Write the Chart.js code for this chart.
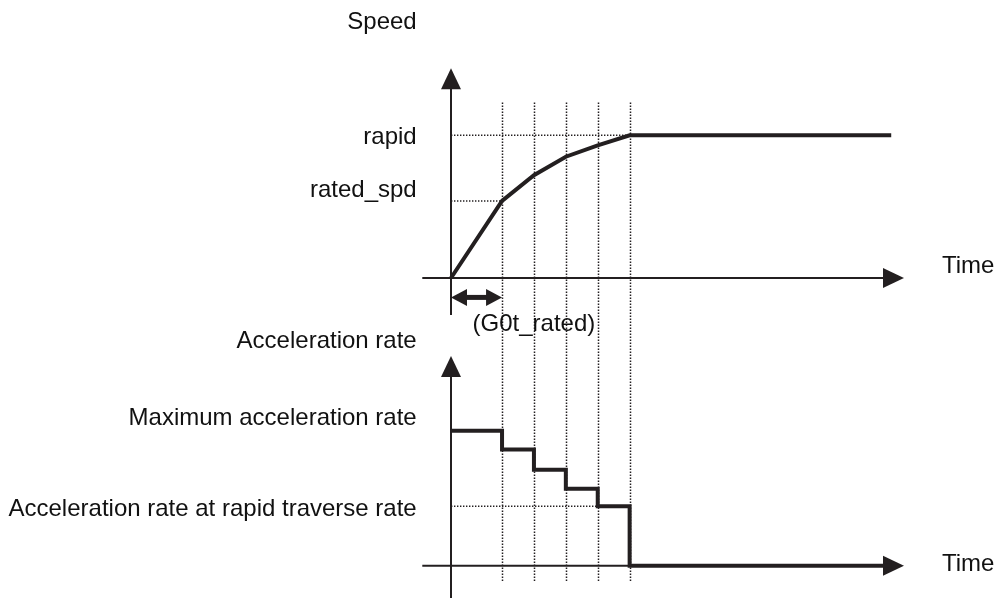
<!DOCTYPE html>
<html>
<head>
<meta charset="utf-8">
<script src="https://cdn.jsdelivr.net/npm/chart.js@4.4.1/dist/chart.umd.min.js"></script>
<style>
  body { margin: 0; background: #fff; }
  #wrap { width: 994px; height: 599px; }
</style>
</head>
<body>
<div id="wrap"><canvas id="diagram" width="994" height="599"></canvas></div>
<script>
// speed curve: time marks and speed (rapid = 1)
const speedTimes = [0, 1.6, 2.6, 3.6, 4.6, 5.6, 13.8];
const speedValues = [0, 0.54, 0.72, 0.85, 0.93, 1.0, 1.0];

// acceleration steps (max = 1), value holds until the next time mark
const accelTimes = [0, 1.6, 2.6, 3.6, 4.6, 5.6, 13.8];
const accelValues = [1.0, 0.86, 0.71, 0.57, 0.44, 0, 0];

// dotted guides
const gridTimes = [1.6, 2.6, 3.6, 4.6, 5.6];
const speedLevels = [1.0, 0.54];
const speedLevelEnds = [5.6, 1.6];
const accelLevels = [1.0, 0.44];

// texts
const speedLabels = ["rapid", "rated_spd"];
const accelLabels = ["Maximum acceleration rate", "Acceleration rate at rapid traverse rate"];
const axisTitles = ["Speed", "Acceleration rate", "Time"];
const ratedSpanLabel = "(G0t_rated)";

const INK = "#231f20";
const FONT = '24px "Liberation Sans", Arial, sans-serif';
const W = 994, H = 599;

// place value 0 at a given pixel with a given pixel-per-unit
function xRange(zeroPx, ppu) {
  const min = -zeroPx / ppu;
  return { min: min, max: min + W / ppu };
}
function yRange(zeroPx, ppu) {
  const max = zeroPx / ppu;
  return { min: max - H / ppu, max: max };
}

function pts(xs, ys) {
  return xs.map((t, i) => ({ x: t, y: ys[i] }));
}

function arrowHead(ctx, tx, ty, dir, len, half) {
  ctx.beginPath();
  ctx.moveTo(tx, ty);
  if (dir === "up") {
    ctx.lineTo(tx - half, ty + len);
    ctx.lineTo(tx + half, ty + len);
  } else if (dir === "right") {
    ctx.lineTo(tx - len, ty - half);
    ctx.lineTo(tx - len, ty + half);
  } else {
    ctx.lineTo(tx + len, ty - half);
    ctx.lineTo(tx + len, ty + half);
  }
  ctx.closePath();
  ctx.fill();
}

function line(ctx, x1, y1, x2, y2) {
  ctx.beginPath();
  ctx.moveTo(x1, y1);
  ctx.lineTo(x2, y2);
  ctx.stroke();
}

const diagramDecor = {
  id: "diagramDecor",
  beforeDatasetsDraw(chart) {
    const { ctx, scales: { x, ySpeed, yAcc } } = chart;
    ctx.save();
    ctx.strokeStyle = INK;
    ctx.fillStyle = INK;

    // vertical dotted guides through both panels
    ctx.lineWidth = 1.5;
    ctx.setLineDash([1.4, 1.6]);
    gridTimes.forEach((t) => {
      const px = Math.round(x.getPixelForValue(t)) + 0.5;
      line(ctx, px, ySpeed.getPixelForValue(1.23), px, yAcc.getPixelForValue(-0.12));
    });
    ctx.setLineDash([]);

    // axes
    ctx.lineWidth = 2;
    const x0 = x.getPixelForValue(0);
    const xStart = x.getPixelForValue(-0.9);
    const xTip = x.getPixelForValue(14.2);
    [[ySpeed, -0.26, 1.47], [yAcc, -0.24, 1.553]].forEach(([ys, lo, hi]) => {
      const y0 = ys.getPixelForValue(0);
      const tip = ys.getPixelForValue(hi);
      line(ctx, x0, ys.getPixelForValue(lo), x0, tip + 18);
      arrowHead(ctx, x0, tip, "up", 21, 10);
      line(ctx, xStart, y0, xTip - 18, y0);
      arrowHead(ctx, xTip, y0, "right", 21, 10);
    });

    // G0t_rated span
    const ay = ySpeed.getPixelForValue(-0.136);
    const ax2 = x.getPixelForValue(1.6);
    ctx.lineWidth = 5;
    line(ctx, x0 + 12, ay, ax2 - 12, ay);
    arrowHead(ctx, x0, ay, "left", 16, 8.5);
    arrowHead(ctx, ax2, ay, "right", 16, 8.5);
    ctx.restore();
  },
  afterDatasetsDraw(chart) {
    const { ctx, scales: { x, ySpeed, yAcc } } = chart;
    ctx.save();
    ctx.fillStyle = "#111";
    ctx.font = FONT;
    ctx.textBaseline = "alphabetic";
    const right = x.getPixelForValue(0) - 34.3;
    const timeX = x.getPixelForValue(14.2) + 38;

    ctx.textAlign = "right";
    ctx.fillText(axisTitles[0], right, ySpeed.getPixelForValue(1.47) - 39);
    ctx.fillText(speedLabels[0], right, ySpeed.getPixelForValue(speedLevels[0]) + 8.7);
    ctx.fillText(speedLabels[1], right, ySpeed.getPixelForValue(speedLevels[1]) - 4);
    ctx.fillText(axisTitles[1], right, yAcc.getPixelForValue(1.553) - 7.7);
    ctx.fillText(accelLabels[0], right, yAcc.getPixelForValue(accelLevels[0]) - 5.7);
    ctx.fillText(accelLabels[1], right, yAcc.getPixelForValue(accelLevels[1]) + 9.3);

    ctx.textAlign = "left";
    ctx.fillText(axisTitles[2], timeX, ySpeed.getPixelForValue(0) - 4.7);
    ctx.fillText(axisTitles[2], timeX, yAcc.getPixelForValue(0) + 5.3);

    ctx.textAlign = "center";
    ctx.fillText(ratedSpanLabel, x.getPixelForValue(2.6), ySpeed.getPixelForValue(-0.136) + 33.4);
    ctx.restore();
  },
};

const dotted = {
  borderColor: INK,
  borderWidth: 1.5,
  borderDash: [1.4, 1.6],
  pointRadius: 0,
  fill: false,
};

const ctx = document.getElementById("diagram").getContext("2d");

new Chart(ctx, {
  type: "line",
  data: {
    datasets: [
      { ...dotted, yAxisID: "ySpeed", data: pts([0, speedLevelEnds[0]], [speedLevels[0], speedLevels[0]]) },
      { ...dotted, yAxisID: "ySpeed", data: pts([0, speedLevelEnds[1]], [speedLevels[1], speedLevels[1]]) },
      { ...dotted, yAxisID: "yAcc", data: pts([0, gridTimes[gridTimes.length - 1]], [accelLevels[1], accelLevels[1]]) },
      {
        label: "Speed",
        yAxisID: "ySpeed",
        data: pts(speedTimes, speedValues),
        borderColor: INK,
        borderWidth: 4,
        borderJoinStyle: "miter",
        pointRadius: 0,
        tension: 0,
        fill: false,
      },
      {
        label: "Acceleration rate",
        yAxisID: "yAcc",
        data: pts(accelTimes, accelValues),
        stepped: "before",
        borderColor: INK,
        borderWidth: 4,
        borderJoinStyle: "miter",
        pointRadius: 0,
        fill: false,
      },
    ],
  },
  options: {
    responsive: false,
    animation: false,
    clip: false,
    layout: { padding: 0 },
    plugins: {
      legend: { display: false },
      tooltip: { enabled: false },
    },
    scales: {
      x: { type: "linear", display: false, ...xRange(451, 31.9) },
      ySpeed: { type: "linear", display: false, ...yRange(278, 142.7) },
      yAcc: { type: "linear", display: false, ...yRange(565.7, 135) },
    },
  },
  plugins: [diagramDecor],
});
</script>
</body>
</html>
